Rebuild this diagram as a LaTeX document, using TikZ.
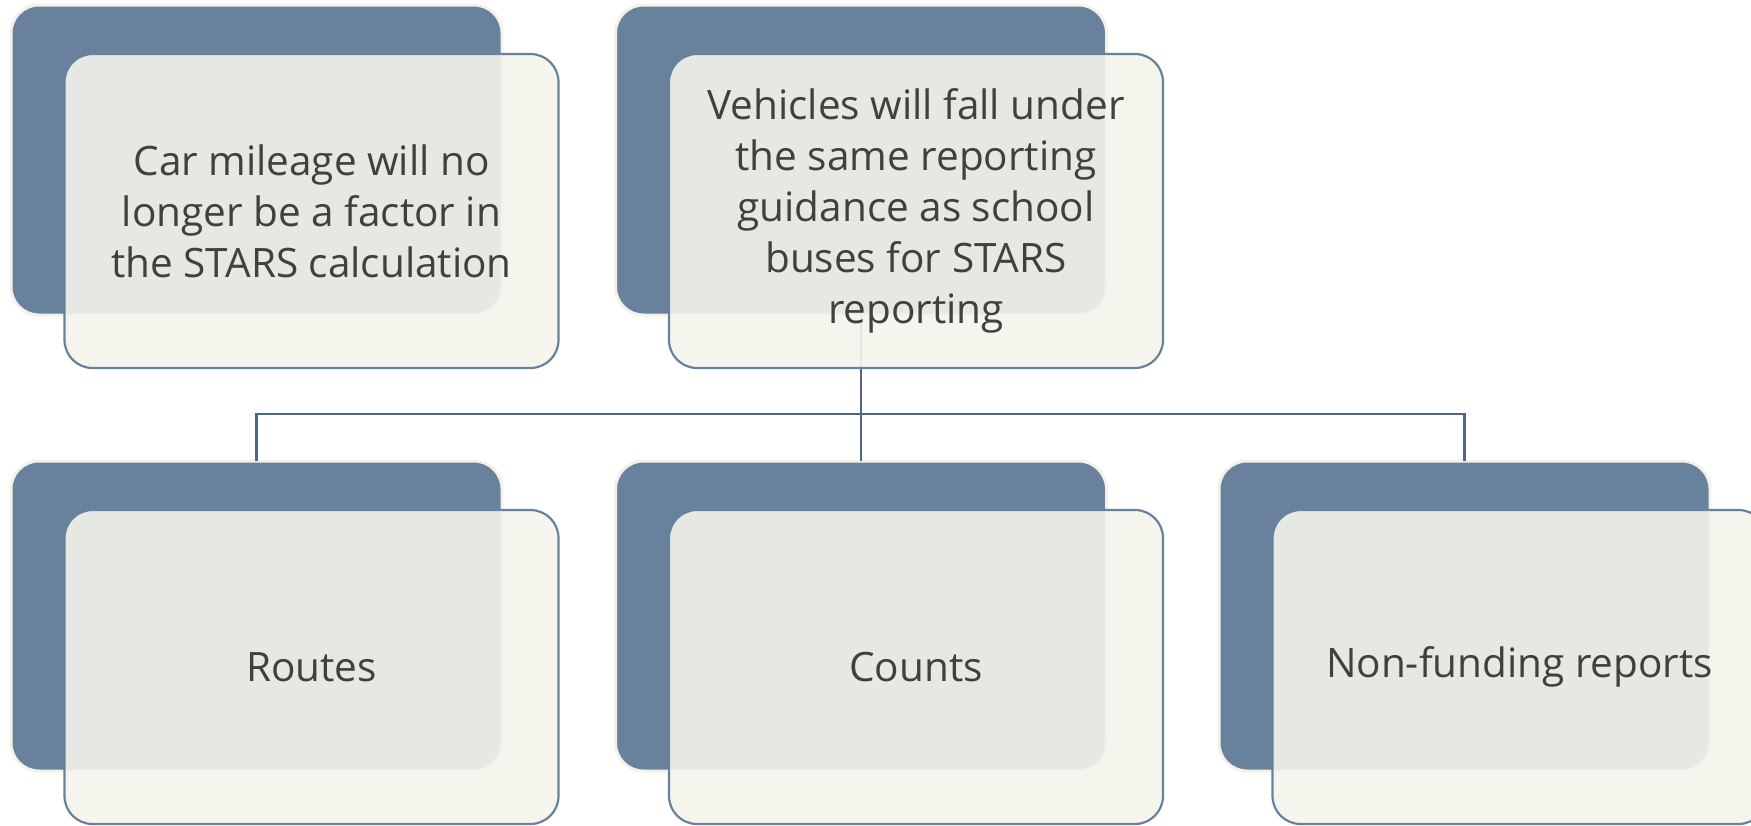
\documentclass[tikz,border=0pt]{standalone}
\usepackage{fontspec}
\setmainfont{Open Sans}
\usetikzlibrary{positioning,calc}

\definecolor{slateBlue}{RGB}{104,130,158}
\definecolor{paperCream}{RGB}{244,244,236}
\definecolor{rimCream}{RGB}{244,242,232}
\definecolor{wireBlue}{RGB}{80,102,130}
\definecolor{inkGrey}{RGB}{64,64,60}

\begin{document}
\begin{tikzpicture}[x=1pt, y=-1pt,
		every node/.style={align=center, inner sep=0pt, outer sep=0pt},
		backCard/.style={
				draw=rimCream, line width=3pt, fill=slateBlue,
				rounded corners=28pt,
				minimum width=491pt, minimum height=310pt
			},
		frontCard/.style={
				draw=slateBlue, line width=2.2pt, fill=paperCream,
				fill opacity=0.9, text opacity=1,
				rounded corners=28pt,
				minimum width=494pt, minimum height=314pt,
				text=inkGrey, font=\fontsize{40.5}{51}\selectfont
			},
		wire/.style={draw=wireBlue, line width=2.2pt}
	]
	\clip (0,0) rectangle (1751,825);

	% back cards
	\node[backCard] (A1) at (256.5,160) {};
	\node[backCard] (A2) at (861,160) {};
	\node[backCard] (A3) at (256.5,616) {};
	\node[backCard] (A4) at (861,616) {};
	\node[backCard] (A5) at (1464.5,616) {};

	% connectors
	\coordinate (bus) at (861,414);
	\draw[wire] (A2.south) -- (bus);
	\draw[wire] (A3.north) |- (bus) -| (A5.north);
	\draw[wire] (bus) -- (A4.north);

	% front cards
	\node[frontCard] (B1) at ($(A1)+(55,51)$) {Car mileage will no\\longer be a factor in\\the STARS calculation};
	\node[frontCard] (B2) at ($(A2)+(55,51)$) {Vehicles will fall under\\the same reporting\\guidance as school\\buses for STARS\\reporting};
	\node[frontCard] (B3) at ($(A3)+(55,51)$) {Routes};
	\node[frontCard] (B4) at ($(A4)+(55,51)$) {Counts};
	\node[frontCard] (B5) at ($(A5)+(55,51)$) {Non-funding reports};
\end{tikzpicture}
\end{document}
